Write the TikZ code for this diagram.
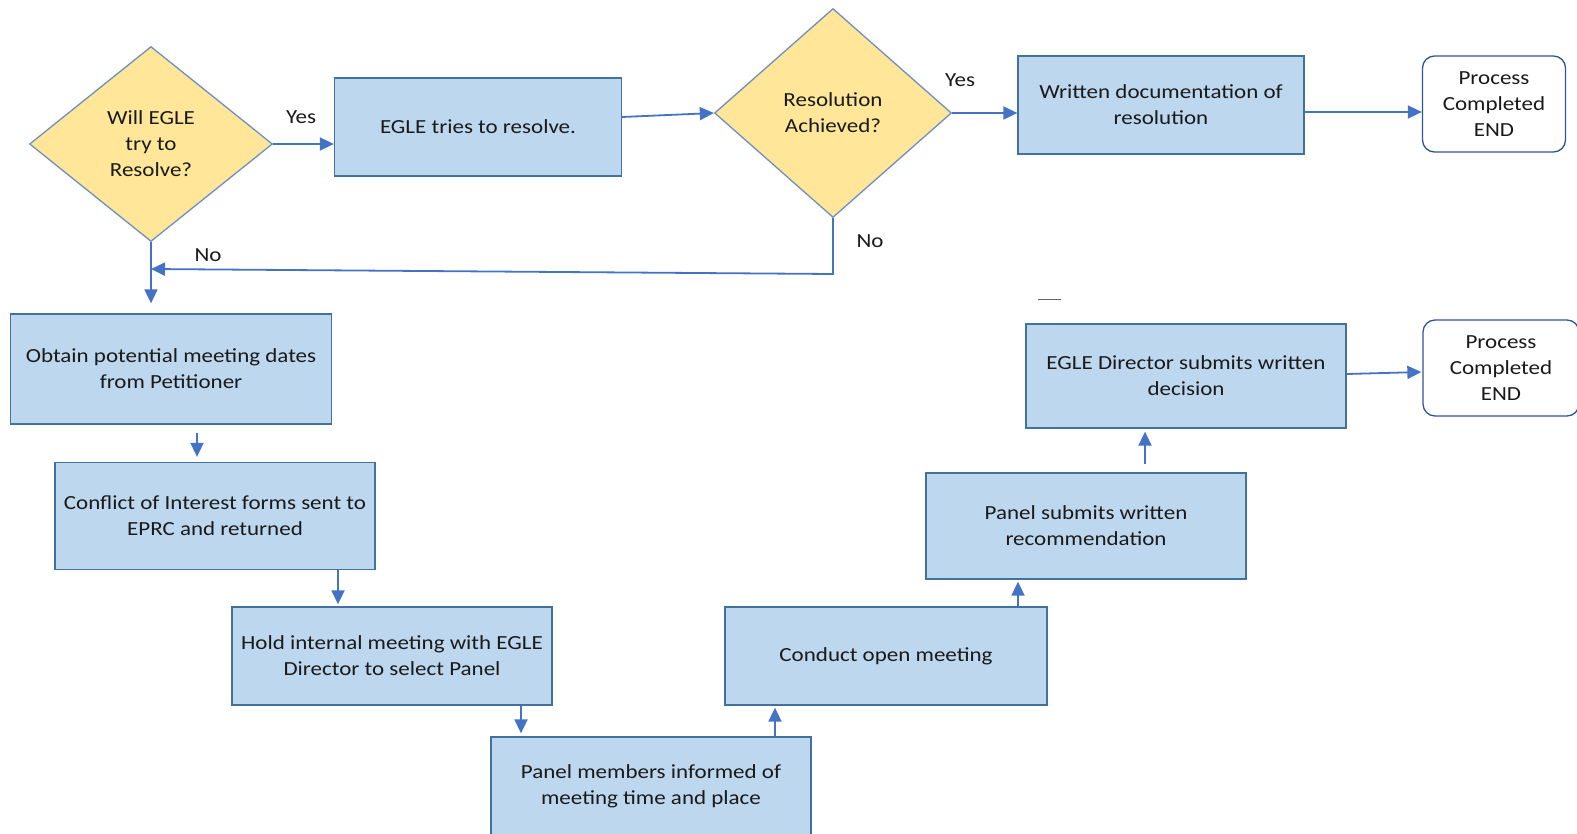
\documentclass[tikz,border=0pt]{standalone}
\usepackage{fontspec}
\setmainfont{Carlito}[FakeStretch=1.15]
\usetikzlibrary{shapes.geometric,arrows.meta}
\definecolor{boxfill}{HTML}{BDD7EE}
\definecolor{boxdraw}{HTML}{41719C}
\definecolor{dfill}{HTML}{FFE699}
\definecolor{ddraw}{HTML}{6F8FBF}
\definecolor{arrowc}{HTML}{4472C4}
\definecolor{enddraw}{HTML}{2F5597}
\definecolor{txt}{HTML}{1A1A1A}
\tikzset{
  every node/.style={font=\fontsize{20}{26}\selectfont, text=txt, align=center},
  box/.style={rectangle, draw=boxdraw, fill=boxfill, line width=1.3pt, inner sep=0pt},
  dec/.style={diamond, draw=ddraw, fill=dfill, line width=1.3pt, inner sep=0pt},
  endbox/.style={rectangle, rounded corners=12pt, draw=enddraw, fill=white, line width=1.3pt, inner sep=0pt},
  arr/.style={draw=arrowc, line width=1.8pt, -{Triangle[length=14pt,width=13pt]}},
  lbl/.style={inner sep=0pt}
}
\begin{document}
\begin{tikzpicture}[x=1pt,y=-1pt]
\useasboundingbox (0,0) rectangle (1577,833);
\clip (0,0) rectangle (1577,833);
% nodes
\node[dec, minimum width=243, minimum height=195] (d1) at (151,144) {Will EGLE\\try to\\Resolve?};
\node[box, minimum width=287, minimum height=98] (a) at (478,127) {EGLE tries to resolve.};
\node[dec, minimum width=237, minimum height=209] (d2) at (833,113) {Resolution\\Achieved?};
\node[box, minimum width=286, minimum height=98] (w) at (1161,105) {Written documentation of\\resolution};
\node[endbox, minimum width=143, minimum height=96] (e1) at (1494,104) {Process\\Completed\\END};
\node[box, minimum width=321, minimum height=110] (o) at (171,369) {Obtain potential meeting dates\\from Petitioner};
\node[box, minimum width=320, minimum height=107] (c) at (215,516) {Conflict of Interest forms sent to\\EPRC and returned};
\node[box, minimum width=320, minimum height=98] (h) at (392,656) {Hold internal meeting with EGLE\\Director to select Panel};
\node[box, minimum width=320, minimum height=98] (p) at (651,786) {Panel members informed of\\meeting time and place};
\node[box, minimum width=322, minimum height=98] (m) at (886,656) {Conduct open meeting};
\node[box, minimum width=320, minimum height=106] (s) at (1086,526) {Panel submits written\\recommendation};
\node[box, minimum width=320, minimum height=104] (dc) at (1186,376) {EGLE Director submits written\\decision};
\node[endbox, minimum width=156, minimum height=96] (e2) at (1501,368) {Process\\Completed\\END};
% labels
\node[lbl] (y1) at (301,117) {Yes};
\node[lbl] (y2) at (960,80) {Yes};
\node[lbl] (n1) at (870,241) {No};
\node[lbl] (n2) at (208,255) {No};
% stray dash
\draw[gray!80!black, line width=1pt] (1038,299) -- (1061,299);
% connectors
\draw[arr] (d1.east) -- (d1.east -| a.west);
\draw[arr] ([shift={(0,-10)}]a.east) -- (d2.west);
\draw[arr] (d2.east) -- (d2.east -| w.west);
\draw[arr] ([shift={(0,7)}]w.east) -- ([shift={(0,7)}]w.east -| e1.west);
\coordinate (k1) at (833,274);
\coordinate (k2) at (151,269);
\draw[arr] (d2.south) -- (k1) -- (k2);
\draw[arr] (d1.south) -- ([shift={(0,-10)}]o.north -| d1.south);
\draw[arr] ([shift={(26,8)}]o.south) -- ([shift={(-18,-5)}]c.north);
\draw[arr] ([shift={(123,0)}]c.south) -- ([shift={(-54,-2)}]h.north);
\draw[arr] ([shift={(129,0)}]h.south) -- ([shift={(-130,-3)}]p.north);
\draw[arr] ([shift={(124,0)}]p.north) -- ([shift={(-111,2)}]m.south);
\draw[arr] ([shift={(132,0)}]m.north) -- ([shift={(-68,2)}]s.south);
\draw[arr] ([shift={(59,-8)}]s.north) -- ([shift={(-41,3)}]dc.south);
\draw[arr] ([shift={(0,-2)}]dc.east) -- ([shift={(-1,4)}]e2.west);
\end{tikzpicture}
\end{document}
